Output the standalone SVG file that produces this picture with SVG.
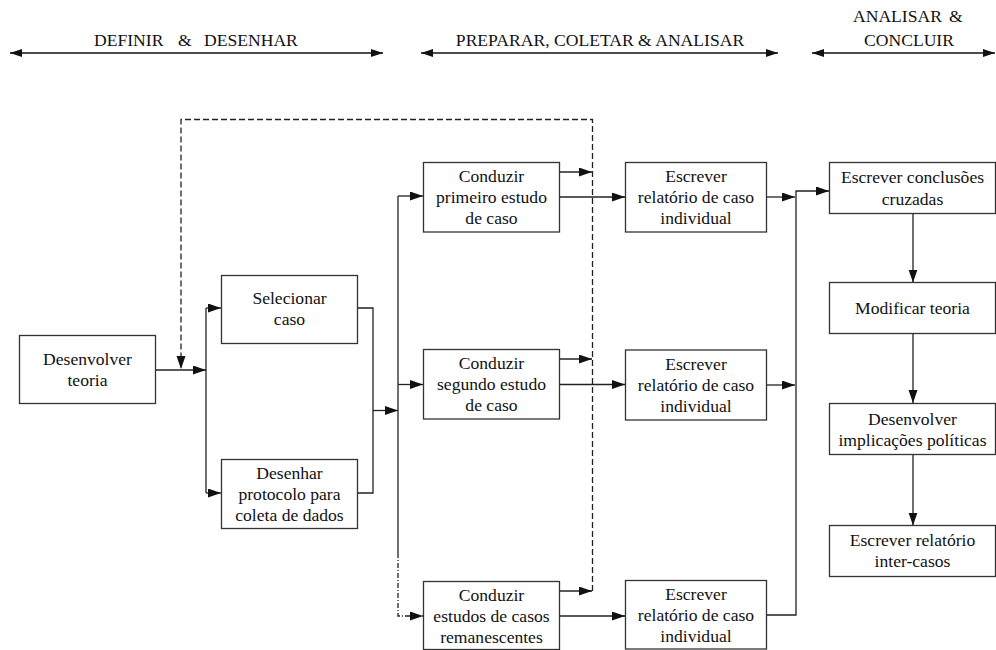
<svg xmlns="http://www.w3.org/2000/svg" width="996" height="650" viewBox="0 0 996 650" font-family="'Liberation Serif', Tinos, 'Times New Roman', Times, 'DejaVu Serif', serif">
<style>
text{font-family:'Liberation Serif',Tinos,'Times New Roman',Times,'DejaVu Serif',serif;font-size:17.6px;fill:#111}
.box rect{fill:#fff;stroke:#333;stroke-width:1.3}
.box text{text-anchor:middle}
.c{fill:none;stroke:#222;stroke-width:1.3}
.a{marker-end:url(#ah)}
.dash{stroke-dasharray:6,3}
.dd{stroke-dasharray:5,2,1,2}
.hdr{fill:none;stroke:#111;stroke-width:1.5;marker-start:url(#hh);marker-end:url(#hh)}
</style>
<defs>
<marker id="ah" markerUnits="userSpaceOnUse" markerWidth="14" markerHeight="10" refX="13" refY="4.5" orient="auto"><path d="M0,0 L13,4.5 L0,9 z" fill="#111"/></marker>
<marker id="hh" markerUnits="userSpaceOnUse" markerWidth="13" markerHeight="9" refX="12" refY="4" orient="auto-start-reverse"><path d="M0,0 L12,4 L0,8 z" fill="#111"/></marker>
</defs>
<g id="headers">
<text y="46"><tspan x="94">DEFINIR</tspan><tspan x="178">&amp;</tspan><tspan x="204">DESENHAR</tspan></text>
<path class="hdr" d="M10 53 H383"/>
<text x="600" y="46" text-anchor="middle">PREPARAR, COLETAR &amp; ANALISAR</text>
<path class="hdr" d="M421 53 H778"/>
<text y="22"><tspan x="853">ANALISAR</tspan><tspan x="949">&amp;</tspan></text>
<text x="909" y="46" text-anchor="middle">CONCLUIR</text>
<path class="hdr" d="M812 53 H995"/>
</g>
<g id="connectors">
<path class="c a" d="M155.5 370 H206"/>
<path class="c" d="M206 308 V493"/>
<path class="c a" d="M206 308 H221"/>
<path class="c a" d="M206 493 H221"/>
<path class="c" d="M357 308 H373 V493 H357"/>
<path class="c a" d="M373 410.5 H398"/>
<path class="c" d="M398 196 V553"/>
<path class="c dd a" d="M398 553 V616 H423"/>
<path class="c a" d="M398 196 H423"/>
<path class="c a" d="M398 384.5 H423"/>
<path class="c a" d="M559 172 H592"/>
<path class="c a" d="M559 359 H592"/>
<path class="c a" d="M559 591 H592"/>
<path class="c dash a" d="M592.5 591 V119.5 H181 V369"/>
<path class="c a" d="M559 197 H625"/>
<path class="c a" d="M559 384.5 H625"/>
<path class="c a" d="M559 616 H625"/>
<path class="c a" d="M767 197 H795"/>
<path class="c a" d="M767 385 H795"/>
<path class="c a" d="M767 615 H796 V191 H829"/>
<path class="c a" d="M913 213.5 V282.5"/>
<path class="c a" d="M913 333.5 V403"/>
<path class="c a" d="M913 454 V525.5"/>
</g>
<g id="desenvolver-teoria" class="box"><rect x="19.5" y="335.5" width="136" height="68"/><text x="87.5" y="365">Desenvolver</text><text x="87.5" y="386">teoria</text></g>
<g id="selecionar-caso" class="box"><rect x="221.5" y="275.5" width="136" height="68"/><text x="289.5" y="304">Selecionar</text><text x="289.5" y="325">caso</text></g>
<g id="desenhar-protocolo" class="box"><rect x="221.5" y="459.5" width="136" height="69"/><text x="289.5" y="478.5">Desenhar</text><text x="289.5" y="499.5">protocolo para</text><text x="289.5" y="520.5">coleta de dados</text></g>
<g id="conduzir-primeiro" class="box"><rect x="423.5" y="162.5" width="136" height="69.5"/><text x="491.5" y="181.5">Conduzir</text><text x="491.5" y="202.5">primeiro estudo</text><text x="491.5" y="223.5">de caso</text></g>
<g id="conduzir-segundo" class="box"><rect x="423.5" y="349.5" width="136" height="69.5"/><text x="491.5" y="369">Conduzir</text><text x="491.5" y="390">segundo estudo</text><text x="491.5" y="411">de caso</text></g>
<g id="conduzir-remanescentes" class="box"><rect x="423.5" y="581.5" width="136" height="68"/><text x="491.5" y="601">Conduzir</text><text x="491.5" y="622">estudos de casos</text><text x="491.5" y="643">remanescentes</text></g>
<g id="relatorio-1" class="box"><rect x="625.5" y="162.5" width="141" height="69.5"/><text x="696" y="182">Escrever</text><text x="696" y="203">relatório de caso</text><text x="696" y="224">individual</text></g>
<g id="relatorio-2" class="box"><rect x="625.5" y="350" width="141" height="70"/><text x="696" y="370">Escrever</text><text x="696" y="391">relatório de caso</text><text x="696" y="412">individual</text></g>
<g id="relatorio-3" class="box"><rect x="625.5" y="580.5" width="141" height="68.5"/><text x="696" y="600">Escrever</text><text x="696" y="621">relatório de caso</text><text x="696" y="642">individual</text></g>
<g id="conclusoes-cruzadas" class="box"><rect x="829.5" y="162.5" width="166" height="51"/><text x="912.5" y="183">Escrever conclusões</text><text x="912.5" y="204.5">cruzadas</text></g>
<g id="modificar-teoria" class="box"><rect x="829.5" y="282.5" width="166" height="51"/><text x="912.5" y="314">Modificar teoria</text></g>
<g id="implicacoes-politicas" class="box"><rect x="829.5" y="403.5" width="166" height="51"/><text x="912.5" y="424.5">Desenvolver</text><text x="912.5" y="445.5">implicações políticas</text></g>
<g id="relatorio-intercasos" class="box"><rect x="829.5" y="525.5" width="166" height="51"/><text x="912.5" y="545.5">Escrever relatório</text><text x="912.5" y="566.5">inter-casos</text></g>
</svg>
